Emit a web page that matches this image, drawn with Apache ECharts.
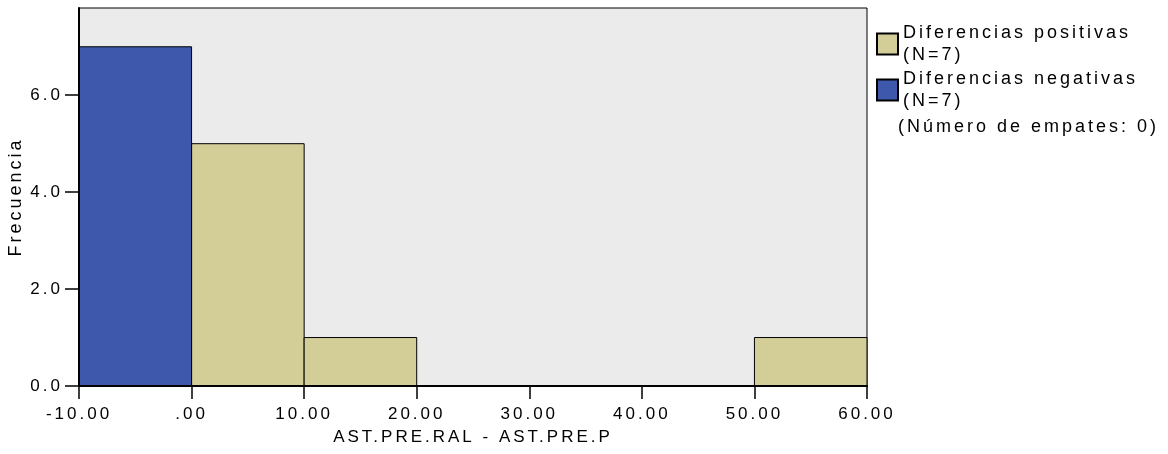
<!DOCTYPE html>
<html>
<head>
<meta charset="utf-8">
<script src="https://cdn.jsdelivr.net/npm/echarts@6/dist/echarts.min.js"></script>
<style>
  html, body { margin: 0; padding: 0; background: #fff; }
  #main { width: 1168px; height: 454px; }
</style>
</head>
<body>
<div id="main"></div>
<script>
// SPSS draws its text with wide letter spacing, do the same on the canvas
var spacing = '3px';
var proto = CanvasRenderingContext2D.prototype;
var fillText = proto.fillText, measureText = proto.measureText;
proto.fillText = function () { this.letterSpacing = spacing; return fillText.apply(this, arguments); };
proto.measureText = function () { this.letterSpacing = spacing; return measureText.apply(this, arguments); };

// histogram bins (width 10)
var binStarts = [-10, 0, 10, 20, 30, 40, 50];
var binEnds = [0, 10, 20, 30, 40, 50, 60];
var positiveCounts = [0, 5, 1, 0, 0, 0, 1];
var negativeCounts = [7, 0, 0, 0, 0, 0, 0];

var xTicks = [-10, 0, 10, 20, 30, 40, 50, 60];
var xTickLabels = ['-10.00', '.00', '10.00', '20.00', '30.00', '40.00', '50.00', '60.00'];
var yTicks = [0, 2, 4, 6];
var yTickLabels = ['0.0', '2.0', '4.0', '6.0'];

var legendNames = ['Diferencias positivas\n(N=7)', 'Diferencias negativas\n(N=7)'];
var tiesNote = '(Número de empates: 0)';

var font = 'Liberation Sans, Arial, sans-serif';

function bins(counts) {
  var out = [];
  for (var i = 0; i < counts.length; i++) {
    if (counts[i] > 0) out.push([binStarts[i], binEnds[i], counts[i]]);
  }
  return out;
}

function renderBin(params, api) {
  var p1 = api.coord([api.value(0), api.value(2)]);
  var p2 = api.coord([api.value(1), 0]);
  return {
    type: 'rect',
    shape: { x: p1[0], y: p1[1], width: p2[0] - p1[0], height: p2[1] - p1[1] },
    style: api.style()
  };
}

var myChart = echarts.init(document.getElementById('main'));

var option = {
  animation: false,
  textStyle: { fontFamily: font, color: '#000' },
  grid: {
    left: 79, right: 301, top: 8, bottom: 68,
    show: true, backgroundColor: '#EBEBEB', borderColor: '#000', borderWidth: 1,
    outerBoundsMode: 'none'
  },
  legend: {
    orient: 'vertical',
    left: 876, top: 22,
    padding: 0,
    itemWidth: 21, itemHeight: 21, itemGap: 2,
    icon: 'rect',
    textStyle: { fontFamily: font, fontSize: 18, color: '#000', lineHeight: 22 },
    data: legendNames
  },
  graphic: [{
    type: 'text', left: 898, top: 117,
    style: { text: tiesNote, fontFamily: font, fontSize: 18, fill: '#000' }
  }],
  xAxis: {
    type: 'value',
    z: 5,
    min: -10, max: 60, interval: 10,
    name: 'AST.PRE.RAL - AST.PRE.P',
    nameLocation: 'middle', nameGap: 41, nameMoveOverlap: false,
    nameTextStyle: { fontFamily: font, fontSize: 17, color: '#000' },
    axisLine: { show: true, onZero: false, lineStyle: { color: '#000', width: 2 } },
    axisTick: { show: true, length: 13, lineStyle: { color: '#000', width: 1.5 } },
    axisLabel: {
      margin: 18, fontFamily: font, fontSize: 17, color: '#000',
      formatter: function (v) { return xTickLabels[xTicks.indexOf(v)]; }
    },
    splitLine: { show: false }
  },
  yAxis: {
    type: 'value',
    z: 5,
    min: 0, max: 7.8,
    name: 'Frecuencia',
    nameLocation: 'middle', nameGap: 52, nameMoveOverlap: false,
    nameTextStyle: { fontFamily: font, fontSize: 18, color: '#000' },
    axisLine: { show: true, onZero: false, lineStyle: { color: '#000', width: 2 } },
    axisTick: { show: true, length: 14, customValues: yTicks, lineStyle: { color: '#000', width: 1.5 } },
    axisLabel: {
      margin: 16, fontFamily: font, fontSize: 17, color: '#000',
      customValues: yTicks,
      formatter: function (v) { return yTickLabels[yTicks.indexOf(v)]; }
    },
    splitLine: { show: false }
  },
  series: [{
    name: legendNames[0],
    type: 'custom',
    renderItem: renderBin,
    encode: { x: [0, 1], y: 2 },
    itemStyle: { color: '#D3CE98', borderColor: '#000', borderWidth: 1 },
    data: bins(positiveCounts)
  }, {
    name: legendNames[1],
    type: 'custom',
    renderItem: renderBin,
    encode: { x: [0, 1], y: 2 },
    itemStyle: { color: '#3E58AC', borderColor: '#000', borderWidth: 1 },
    data: bins(negativeCounts)
  }]
};

myChart.setOption(option);
</script>
</body>
</html>
